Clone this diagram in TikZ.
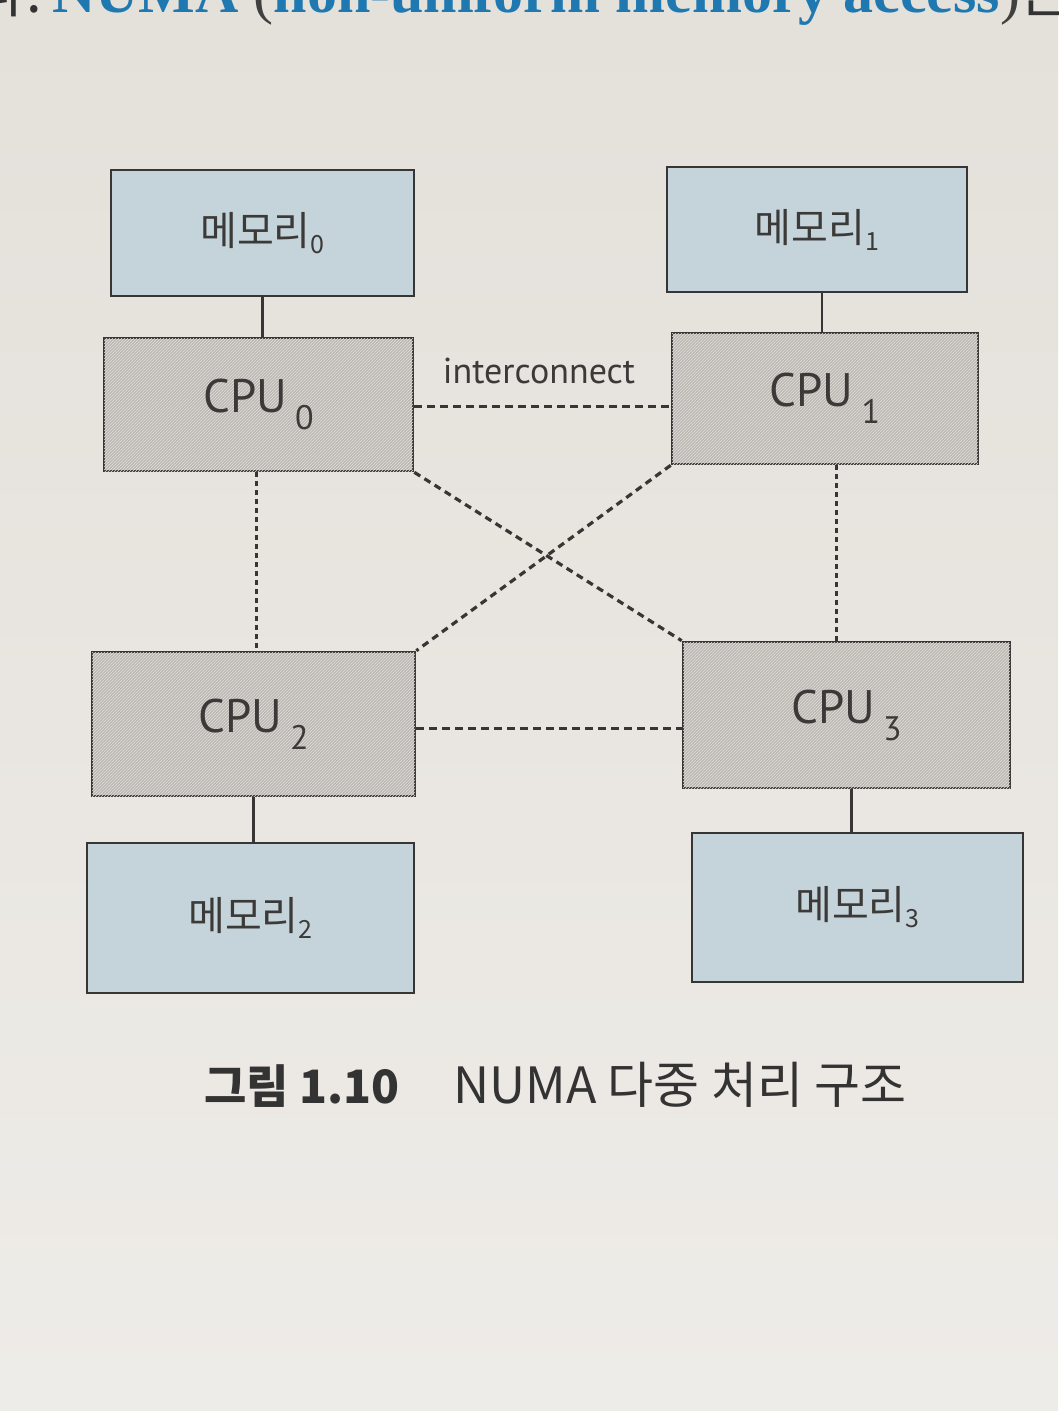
\documentclass[tikz,border=0pt]{standalone}
\usepackage{fontspec}
\usetikzlibrary{patterns}
\newfontfamily\krfont{Noto Sans CJK KR}
\newfontfamily\cpufont{PT Sans}
\newfontfamily\serifen{Liberation Serif}
\definecolor{bgpaper}{HTML}{E4E0DA}
\definecolor{bgpaperlow}{HTML}{EEECE8}
\definecolor{memblue}{HTML}{C5D4DB}
\definecolor{cpugray}{HTML}{BCB7B1}
\definecolor{edgegray}{HTML}{383634}
\definecolor{inkgray}{HTML}{3C3A38}
\definecolor{numablue}{HTML}{1F78B0}
\newcommand{\memlabel}[1]{{\krfont\fontsize{40}{44}\selectfont 메모리\raisebox{-8pt}{\fontsize{25}{25}\selectfont #1}}}
\newcommand{\cpulabel}[1]{{\cpufont\fontsize{47}{52}\selectfont CPU\hspace{8pt}\raisebox{-17pt}{\fontsize{34}{34}\selectfont #1}}}
\begin{document}
\begin{tikzpicture}[x=1pt,y=-1pt,
  membox/.style={draw=edgegray, line width=2.6pt, fill=memblue, inner sep=0pt, text=inkgray},
  cpubox/.style={draw=edgegray, line width=2.6pt, fill=cpugray, inner sep=0pt, text=inkgray,
     postaction={pattern=north east lines, pattern color=black!12}},
  solidlink/.style={draw=edgegray, line width=2.4pt},
  hlink/.style={draw=edgegray, line width=3pt, dash pattern=on 8pt off 5pt},
  vlink/.style={draw=edgegray, line width=3pt, dash pattern=on 5pt off 4pt},
  dlink/.style={draw=edgegray, line width=3.2pt, dash pattern=on 7pt off 5pt}]
\useasboundingbox (0,0) rectangle (1058,1411);
\clip (0,0) rectangle (1058,1411);
\shade[top color=bgpaper, bottom color=bgpaperlow] (0,0) rectangle (1058,1411);
% header text (cut off at top edge, as in the page photo)
\node[anchor=base east, inner sep=0pt, text=black!80, font=\krfont\fontsize{56}{60}\selectfont] (hdrA) at (42,12) {니다.};
\node[anchor=base west, inner sep=0pt, text=numablue, font=\serifen\bfseries\fontsize{60}{62}\selectfont] (hdrB) at (52,12)
  {NUMA {\color{black!75}\mdseries(}non-uniform memory access{\color{black!75}\mdseries)}};
\node[anchor=base west, inner sep=0pt, text=black!80, font=\krfont\fontsize{56}{60}\selectfont] (hdrC) at (hdrB.base east) {는};
% boxes
\node[membox, minimum width=303pt, minimum height=126pt] (mem0) at (262.5,233) {\memlabel{0}};
\node[cpubox, minimum width=309pt, minimum height=133pt] (cpu0) at (258.5,404.5) {\cpulabel{0}};
\node[membox, minimum width=300pt, minimum height=125pt] (mem1) at (817,229.5) {\memlabel{1}};
\node[cpubox, minimum width=306pt, minimum height=131pt] (cpu1) at (825,398.5) {\cpulabel{1}};
\node[cpubox, minimum width=323pt, minimum height=144pt] (cpu2) at (253.5,724) {\cpulabel{2}};
\node[membox, minimum width=327pt, minimum height=150pt] (mem2) at (250.5,918) {\memlabel{2}};
\node[cpubox, minimum width=327pt, minimum height=146pt] (cpu3) at (846.5,715) {\cpulabel{3}};
\node[membox, minimum width=331pt, minimum height=149pt] (mem3) at (857.5,907.5) {\memlabel{3}};
% memory links
\draw[solidlink] (mem0.south) -- (mem0.south |- cpu0.north);
\draw[solidlink] ([xshift=5pt]mem1.south) -- ([xshift=5pt]mem1.south |- cpu1.north);
\draw[solidlink] (cpu2.south) -- (cpu2.south |- mem2.north);
\draw[solidlink] ([xshift=5pt]cpu3.south) -- ([xshift=5pt]cpu3.south |- mem3.north);
% interconnects
\draw[hlink] ([yshift=-1.5pt]cpu0.east) -- ([yshift=-1.5pt]cpu0.east -| cpu1.west);
\draw[hlink] ([yshift=-4pt]cpu2.east) -- ([yshift=-4pt]cpu2.east -| cpu3.west);
\draw[vlink] ([xshift=-2pt]cpu0.south) -- ([xshift=-2pt]cpu0.south |- cpu2.north);
\draw[vlink] ([xshift=11pt]cpu1.south) -- ([xshift=11pt]cpu1.south |- cpu3.north);
\draw[dlink] (cpu0.south east) -- (cpu3.north west);
\draw[dlink] (cpu1.south west) -- (cpu2.north east);
\node[anchor=base, inner sep=0pt, text=inkgray, font=\cpufont\fontsize{36}{38}\selectfont] (ic) at (539,383) {interconnect};
% caption
\node[anchor=base west, inner sep=0pt, text=black!80] (cap) at (204,1103)
  {{\krfont\bfseries\fontsize{46}{50}\selectfont 그림 1.10}\hspace{54pt}{\krfont\fontsize{50}{54}\selectfont NUMA 다중 처리 구조}};
\end{tikzpicture}
\end{document}
